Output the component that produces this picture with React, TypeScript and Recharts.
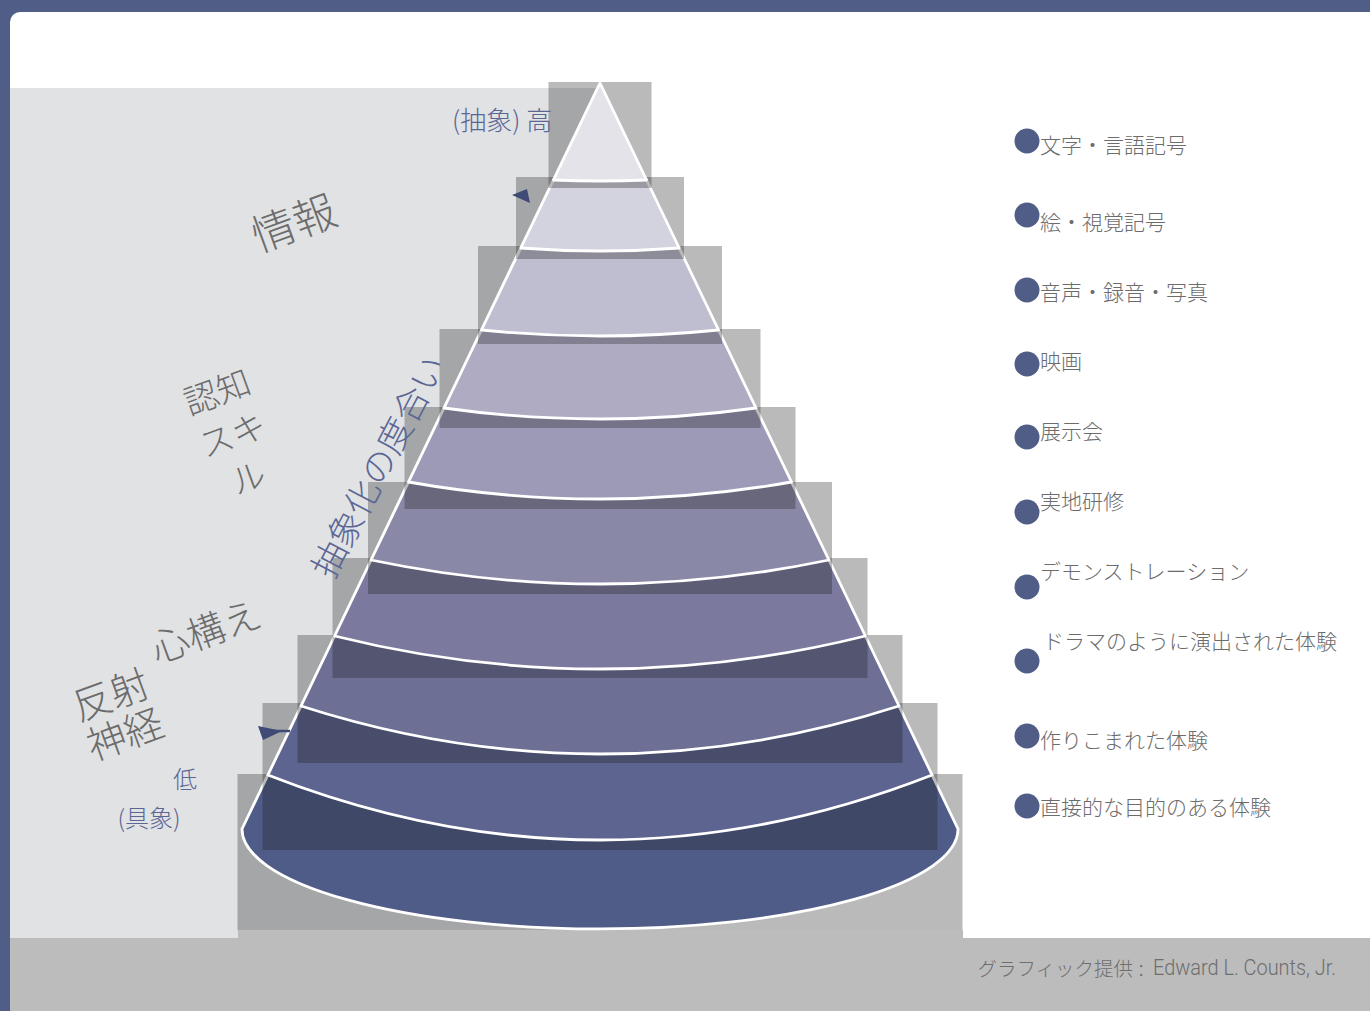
import React from 'react';
import { ComposedChart, XAxis, YAxis, ReferenceArea, Legend } from 'recharts';

// Pyramid layers, top (most abstract) to bottom (most concrete)
const layerNames = [
  '文字・言語記号',
  '絵・視覚記号',
  '音声・録音・写真',
  '映画',
  '展示会',
  '実地研修',
  'デモンストレーション',
  'ドラマのように演出された体験',
  '作りこまれた体験',
  '直接的な目的のある体験',
];

// depth (below apex) where each layer's lower boundary meets the pyramid sides
const boundaryDepth = [97, 165, 247, 325, 399, 477, 553, 623, 692, 746];
// how far each lower boundary bows down at the centre
const boundarySag = [1, 3, 6, 11, 17, 24, 33, 48, 65, 100];
// half width of the pyramid at its base corners
const baseHalfWidth = 358;

// shadow bars behind each layer
const barTop = [-1, 94, 163, 246, 324, 399, 475, 552, 620, 691];
const barBottom = [105, 176, 261, 345, 426, 511, 595, 680, 767, 847];
const barHalfWidth = [51.5, 84, 122, 160.5, 195.5, 232, 267.5, 302.5, 337.5, 362.5];

// ---------- styles ----------
const LAYER_COLORS = [
  '#e5e3ea', '#d3d2df', '#bfbdd0', '#aeabc3', '#9c9ab6',
  '#8a88a7', '#7b7a9e', '#6d6f95', '#5d6490', '#4f5c87',
];
const BAR_FILL = 'rgba(28,28,28,0.3)';
const FRAME_BLUE = '#4f5d87';
const TEXT_GRAY = '#6c6c6c';
const TEXT_BLUE = '#5b6694';
const JP = "'Noto Sans CJK JP', 'Noto Sans', sans-serif";

const LEGEND_MARKER_Y = [21, 95, 170, 244, 317, 392, 467, 541, 616, 686];
const LEGEND_LABEL_Y = [24, 101, 171, 240, 310, 380, 450, 520, 619, 686];
const LEGEND_LABEL_X = [40, 40, 40, 40, 40, 40, 40, 43, 40, 40];

const lastIdx = boundaryDepth.length - 1;

function makeLayerShape(i: number) {
  return (p: any) => {
    const { x, y, width, height } = p;
    const hw = barHalfWidth[i];
    const sx = width / (2 * hw);
    const sy = height / (barBottom[i] - barTop[i]);
    const X = (v: number) => x + (v + hw) * sx;
    const Y = (v: number) => y + (v - barTop[i]) * sy;
    const d = boundaryDepth[i];
    const r = (baseHalfWidth * d) / boundaryDepth[lastIdx];
    const sag = boundarySag[i];
    let path: string;
    if (i === lastIdx) {
      path = `M${X(0)},${Y(0)} L${X(-r)},${Y(d)} A${r * sx},${sag * sy} 0 0 0 ${X(r)},${Y(d)} Z`;
    } else {
      path = `M${X(0)},${Y(0)} L${X(-r)},${Y(d)} Q${X(0)},${Y(d + 2 * sag)} ${X(r)},${Y(d)} Z`;
    }
    return (
      <g>
        <rect x={x} y={y} width={width} height={height} fill={BAR_FILL} />
        <path d={path} fill={LAYER_COLORS[i]} stroke="#ffffff" strokeWidth={2.8} strokeLinejoin="round" />
      </g>
    );
  };
}

const renderLegend = () => (
  <svg width={370} height={720} style={{ display: 'block' }}>
    {layerNames.map((name, i) => (
      <g key={name}>
        <circle cx={27} cy={LEGEND_MARKER_Y[i]} r={12.5} fill={FRAME_BLUE} />
        <text
          x={LEGEND_LABEL_X[i]}
          y={LEGEND_LABEL_Y[i]}
          dominantBaseline="central"
          fontFamily={JP}
          fontWeight={300}
          fontSize={21}
          fill={TEXT_GRAY}
        >
          {name}
        </text>
      </g>
    ))}
  </svg>
);

const order = layerNames.map((_, i) => lastIdx - i);

export default function App() {
  return (
    <div
      style={{
        position: 'absolute',
        left: 0,
        top: 0,
        width: 1370,
        height: 1011,
        overflow: 'hidden',
        background: FRAME_BLUE,
        fontFamily: JP,
      }}
    >
      <div
        style={{
          position: 'absolute',
          left: 10,
          top: 12,
          right: 0,
          bottom: 0,
          background: '#ffffff',
          borderTopLeftRadius: 10,
        }}
      />
      <div style={{ position: 'absolute', left: 10, top: 88, width: 590, height: 850, background: '#e1e2e4' }} />
      <div style={{ position: 'absolute', left: 238, top: 930, width: 725, height: 9, background: '#bcbcbc' }} />
      <div style={{ position: 'absolute', left: 10, top: 938, right: 0, bottom: 0, background: '#bcbcbc' }} />

      <div style={{ position: 'absolute', left: 0, top: 0 }}>
        <ComposedChart width={1370} height={1011} margin={{ top: 0, right: 0, bottom: 0, left: 0 }}>
          <XAxis type="number" dataKey="x" domain={[-600, 770]} allowDataOverflow hide />
          <YAxis type="number" domain={[-83, 928]} allowDataOverflow reversed hide />
          {order.map((i) => (
            <ReferenceArea
              key={layerNames[i]}
              x1={-barHalfWidth[i]}
              x2={barHalfWidth[i]}
              y1={barTop[i]}
              y2={barBottom[i]}
              ifOverflow="visible"
              shape={makeLayerShape(i)}
            />
          ))}
          <Legend
            layout="horizontal"
            verticalAlign="middle"
            align="center"
            wrapperStyle={{ left: 1000, top: 120, width: 370, height: 720 }}
            content={renderLegend}
          />
        </ComposedChart>
      </div>

      <svg
        width={1370}
        height={1011}
        style={{ position: 'absolute', left: 0, top: 0, pointerEvents: 'none' }}
        fontFamily={JP}
        fontWeight={300}
      >
        {/* arrow heads */}
        <path d="M512,195 L527,189 L530,203 Z" fill="#3f4b76" />
        <path d="M258,726 L282,731 L263,740 Z" fill="#3f4b76" />
        <line x1={270} y1={731} x2={290} y2={731} stroke="#3f4b76" strokeWidth={2.5} />

        <text x={452} y={118} dominantBaseline="central" fontSize={26} fill={TEXT_BLUE}>(抽象) 高</text>

        <text transform="translate(293,220) rotate(-20)" textAnchor="middle" dominantBaseline="central" fontSize={43} fill={TEXT_GRAY}>情報</text>

        <g transform="translate(232,433) rotate(-20)" fontSize={34} fill={TEXT_GRAY}>
          <text x={0} y={-45.5} textAnchor="middle" dominantBaseline="central">認知</text>
          <text x={0} y={0} textAnchor="middle" dominantBaseline="central">スキ</text>
          <text x={0} y={45.5} textAnchor="middle" dominantBaseline="central">ル</text>
        </g>

        <text transform="translate(376,465) rotate(-62.3)" textAnchor="middle" dominantBaseline="central" fontSize={35} fill={TEXT_BLUE}>抽象化の度合い</text>

        <text transform="translate(205,629) rotate(-20)" textAnchor="middle" dominantBaseline="central" fontSize={38} fill={TEXT_GRAY}>心構え</text>

        <g transform="translate(117,712) rotate(-20)" fontSize={39} fill={TEXT_GRAY}>
          <text x={0} y={-21} textAnchor="middle" dominantBaseline="central">反射</text>
          <text x={0} y={21} textAnchor="middle" dominantBaseline="central">神経</text>
        </g>

        <text x={185} y={777} textAnchor="middle" dominantBaseline="central" fontSize={24} fill={TEXT_BLUE}>低</text>
        <text x={149} y={816} textAnchor="middle" dominantBaseline="central" fontSize={24} fill={TEXT_BLUE}>(具象)</text>

        <text x={1133} y={967} textAnchor="end" dominantBaseline="central" fontSize={19.5} fill="#6e6e6e">グラフィック提供</text>
        <text x={1141} y={967} textAnchor="middle" dominantBaseline="central" fontSize={21} fill="#6e6e6e">:</text>
        <text
          x={1153}
          y={967}
          dominantBaseline="central"
          fontSize={22}
          fontWeight={300}
          fontFamily="'Liberation Sans Narrow', 'Roboto', sans-serif"
          textLength={183}
          lengthAdjust="spacingAndGlyphs"
          fill="#6e6e6e"
        >
          Edward L. Counts, Jr.
        </text>
      </svg>
    </div>
  );
}
